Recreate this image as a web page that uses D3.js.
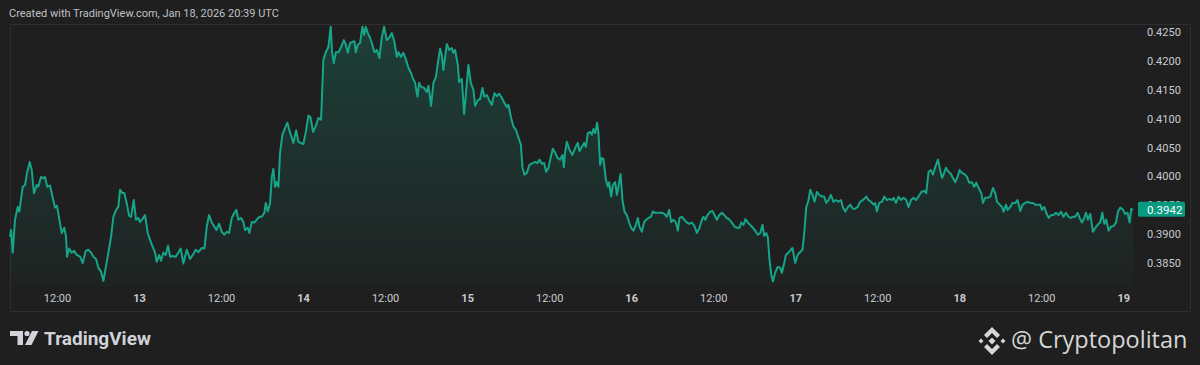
<!DOCTYPE html>
<html>
<head>
<meta charset="utf-8">
<script src="https://cdn.jsdelivr.net/npm/d3@7"></script>
<style>
    body { margin: 0; background: #1f1f1f; overflow: hidden; }
    svg { display: block; }
    text { font-family: Roboto, "DejaVu Sans", sans-serif; }
</style>
</head>
<body>
<script>
var w = 1200;
var h = 365;

// [hours since 2026-01-12 00:00 UTC, price]
var series = [
    [5.12, 0.3895], [5.27, 0.3907], [5.52, 0.3868], [5.85, 0.3925], [6.25, 0.3947], [6.48, 0.3939],
    [6.98, 0.3982], [7.32, 0.3985], [7.61, 0.4006], [8.00, 0.4025], [8.30, 0.4011], [8.63, 0.3971],
    [9.03, 0.3985], [9.26, 0.3982], [9.66, 0.3999], [10.00, 0.3997], [10.24, 0.3999], [10.58, 0.3982],
    [10.98, 0.3984], [11.37, 0.3963], [11.71, 0.3946], [12.00, 0.3949], [12.34, 0.3925], [12.69, 0.3902],
    [13.07, 0.3911], [13.32, 0.3895], [13.46, 0.3861], [13.76, 0.3875], [14.15, 0.3868], [14.49, 0.3871],
    [14.88, 0.3864], [15.37, 0.3861], [15.76, 0.3850], [16.20, 0.3871], [16.58, 0.3873], [16.98, 0.3868],
    [17.31, 0.3861], [17.71, 0.3857], [18.04, 0.3842], [18.44, 0.3835], [18.78, 0.3819], [19.13, 0.3842],
    [19.51, 0.3868], [19.90, 0.3895], [20.24, 0.3930], [20.63, 0.3942], [20.97, 0.3947], [21.22, 0.3977],
    [21.56, 0.3971], [21.85, 0.3971], [22.24, 0.3951], [22.54, 0.3932], [22.83, 0.3930], [23.22, 0.3959],
    [23.56, 0.3925], [23.90, 0.3928], [24.15, 0.3921], [24.48, 0.3926], [24.88, 0.3933], [25.27, 0.3902],
    [25.61, 0.3890], [26.00, 0.3878], [26.34, 0.3868], [26.59, 0.3852], [26.93, 0.3864], [27.22, 0.3854],
    [27.56, 0.3868], [27.91, 0.3864], [28.24, 0.3880], [28.54, 0.3861], [28.93, 0.3862], [29.37, 0.3861],
    [29.75, 0.3868], [30.10, 0.3875], [30.48, 0.3849], [30.98, 0.3873], [31.46, 0.3857], [31.86, 0.3864],
    [32.30, 0.3873], [32.68, 0.3869], [33.18, 0.3876], [33.56, 0.3875], [33.91, 0.3913], [34.24, 0.3933],
    [34.64, 0.3920], [35.02, 0.3913], [35.31, 0.3907], [35.71, 0.3918], [36.10, 0.3904], [36.48, 0.3899],
    [36.83, 0.3904], [37.17, 0.3902], [37.57, 0.3928], [37.95, 0.3937], [38.24, 0.3942], [38.53, 0.3925],
    [38.93, 0.3928], [39.26, 0.3921], [39.51, 0.3907], [39.91, 0.3911], [40.14, 0.3902], [40.49, 0.3921],
    [40.87, 0.3920], [41.22, 0.3925], [41.61, 0.3930], [41.96, 0.3930], [42.34, 0.3937], [42.54, 0.3954],
    [42.83, 0.3939], [43.17, 0.3954], [43.42, 0.3999], [43.65, 0.4013], [43.90, 0.3982], [44.15, 0.3990],
    [44.39, 0.3982], [44.63, 0.4041], [44.97, 0.4072], [45.37, 0.4084], [45.70, 0.4093], [45.99, 0.4080],
    [46.58, 0.4058], [46.98, 0.4080], [47.31, 0.4060], [47.66, 0.4058], [48.04, 0.4056], [48.40, 0.4077],
    [48.78, 0.4105], [49.07, 0.4103], [49.46, 0.4077], [49.86, 0.4087], [50.24, 0.4101], [50.63, 0.4098],
    [50.97, 0.4202], [51.32, 0.4215], [51.70, 0.4224], [52.05, 0.4259], [52.24, 0.4215], [52.49, 0.4196],
    [52.79, 0.4215], [53.17, 0.4215], [53.56, 0.4224], [53.96, 0.4236], [54.25, 0.4228], [54.54, 0.4214],
    [54.88, 0.4231], [55.27, 0.4233], [55.51, 0.4234], [55.71, 0.4215], [56.00, 0.4228], [56.34, 0.4231],
    [56.68, 0.4259], [56.93, 0.4245], [57.17, 0.4259], [57.47, 0.4248], [57.80, 0.4240], [58.14, 0.4228],
    [58.43, 0.4215], [58.79, 0.4219], [59.17, 0.4205], [59.52, 0.4241], [59.85, 0.4259], [60.25, 0.4236],
    [60.59, 0.4240], [60.98, 0.4248], [61.36, 0.4233], [61.71, 0.4207], [61.95, 0.4215], [62.30, 0.4207],
    [62.68, 0.4214], [63.03, 0.4203], [63.41, 0.4188], [63.80, 0.4179], [64.05, 0.4170], [64.39, 0.4162],
    [64.73, 0.4138], [64.98, 0.4162], [65.27, 0.4155], [65.71, 0.4153], [66.10, 0.4146], [66.34, 0.4157],
    [66.73, 0.4122], [67.07, 0.4162], [67.42, 0.4172], [67.71, 0.4196], [68.05, 0.4221], [68.30, 0.4210],
    [68.53, 0.4184], [68.78, 0.4207], [69.03, 0.4229], [69.37, 0.4219], [69.76, 0.4222], [69.99, 0.4214],
    [70.24, 0.4219], [70.64, 0.4193], [70.83, 0.4163], [71.22, 0.4169], [71.56, 0.4108], [71.96, 0.4162],
    [72.19, 0.4193], [72.54, 0.4162], [72.92, 0.4150], [73.17, 0.4122], [73.57, 0.4132], [73.90, 0.4134],
    [74.24, 0.4153], [74.53, 0.4138], [74.88, 0.4141], [75.22, 0.4132], [75.61, 0.4124], [75.99, 0.4144],
    [76.35, 0.4139], [76.68, 0.4143], [77.08, 0.4136], [77.46, 0.4127], [77.81, 0.4120], [78.04, 0.4124],
    [78.44, 0.4101], [78.78, 0.4086], [79.17, 0.4080], [79.51, 0.4067], [79.86, 0.4055], [80.09, 0.4016],
    [80.38, 0.4003], [80.74, 0.4006], [81.12, 0.4020], [81.56, 0.4023], [81.95, 0.4025], [82.29, 0.4023],
    [82.58, 0.4029], [82.93, 0.4022], [83.27, 0.4023], [83.56, 0.4008], [83.90, 0.4015], [84.25, 0.4034],
    [84.54, 0.4048], [84.88, 0.4041], [85.22, 0.4032], [85.61, 0.4029], [85.95, 0.4037], [86.15, 0.4016],
    [86.34, 0.4042], [86.59, 0.4060], [86.97, 0.4046], [87.41, 0.4037], [87.80, 0.4049], [88.20, 0.4058],
    [88.43, 0.4044], [88.78, 0.4051], [89.12, 0.4058], [89.37, 0.4051], [89.66, 0.4075], [90.00, 0.4077],
    [90.25, 0.4072], [90.48, 0.4082], [90.73, 0.4075], [91.02, 0.4093], [91.21, 0.4075], [91.46, 0.4020],
    [91.71, 0.4032], [91.95, 0.4030], [92.30, 0.3994], [92.59, 0.3982], [92.78, 0.3990], [93.07, 0.3965],
    [93.32, 0.3985], [93.66, 0.3990], [93.91, 0.3968], [94.14, 0.3982], [94.44, 0.4004], [94.73, 0.3959],
    [95.02, 0.3939], [95.37, 0.3933], [95.71, 0.3920], [96.00, 0.3911], [96.34, 0.3906], [96.69, 0.3916],
    [96.98, 0.3928], [97.21, 0.3913], [97.56, 0.3904], [97.90, 0.3921], [98.20, 0.3925], [98.53, 0.3928],
    [98.88, 0.3930], [99.17, 0.3939], [99.51, 0.3937], [100.00, 0.3937], [100.49, 0.3937], [100.87, 0.3935],
    [101.22, 0.3930], [101.56, 0.3942], [101.85, 0.3921], [102.19, 0.3925], [102.54, 0.3920], [102.83, 0.3906],
    [103.07, 0.3928], [103.42, 0.3930], [103.76, 0.3925], [104.15, 0.3920], [104.49, 0.3918], [104.88, 0.3920],
    [105.26, 0.3914], [105.61, 0.3902], [106.00, 0.3911], [106.34, 0.3925], [106.58, 0.3930], [106.83, 0.3925],
    [107.17, 0.3933], [107.56, 0.3939], [107.90, 0.3940], [108.19, 0.3933], [108.54, 0.3925], [108.88, 0.3933],
    [109.27, 0.3937], [109.61, 0.3933], [110.00, 0.3928], [110.38, 0.3925], [110.73, 0.3920], [111.12, 0.3913],
    [111.47, 0.3911], [111.85, 0.3911], [112.10, 0.3920], [112.43, 0.3916], [112.73, 0.3926], [113.08, 0.3920],
    [113.41, 0.3916], [113.81, 0.3911], [114.15, 0.3906], [114.54, 0.3899], [114.88, 0.3902], [115.22, 0.3916],
    [115.46, 0.3897], [115.76, 0.3902], [116.00, 0.3894], [116.24, 0.3856], [116.49, 0.3830], [116.74, 0.3818],
    [117.07, 0.3833], [117.41, 0.3843], [117.80, 0.3842], [118.05, 0.3833], [118.39, 0.3850], [118.64, 0.3864],
    [119.02, 0.3868], [119.37, 0.3873], [119.60, 0.3876], [120.00, 0.3850], [120.34, 0.3864], [120.73, 0.3869],
    [121.07, 0.3873], [121.36, 0.3907], [121.61, 0.3946], [121.95, 0.3959], [122.20, 0.3977], [122.53, 0.3968],
    [122.83, 0.3956], [123.17, 0.3973], [123.51, 0.3968], [123.91, 0.3965], [124.24, 0.3965], [124.54, 0.3954],
    [124.87, 0.3959], [125.22, 0.3968], [125.60, 0.3956], [125.95, 0.3959], [126.34, 0.3956], [126.69, 0.3959],
    [126.98, 0.3946], [127.32, 0.3939], [127.71, 0.3947], [128.05, 0.3951], [128.44, 0.3944], [128.78, 0.3944],
    [129.12, 0.3947], [129.51, 0.3956], [129.91, 0.3959], [130.39, 0.3965], [130.73, 0.3959], [131.08, 0.3956],
    [131.46, 0.3951], [131.71, 0.3954], [131.95, 0.3939], [132.29, 0.3954], [132.69, 0.3956], [133.02, 0.3965],
    [133.42, 0.3959], [133.80, 0.3961], [134.15, 0.3959], [134.39, 0.3963], [134.74, 0.3954], [135.12, 0.3965],
    [135.47, 0.3959], [135.85, 0.3963], [136.24, 0.3959], [136.58, 0.3947], [136.93, 0.3959], [137.31, 0.3963],
    [137.66, 0.3959], [138.04, 0.3965], [138.44, 0.3973], [138.88, 0.3975], [139.17, 0.3971], [139.51, 0.4008],
    [139.86, 0.4011], [140.15, 0.4003], [140.49, 0.4016], [140.88, 0.4029], [141.12, 0.4016], [141.47, 0.3997],
    [141.70, 0.4003], [142.05, 0.4015], [142.43, 0.4008], [142.79, 0.4004], [143.08, 0.3997], [143.41, 0.3990],
    [143.75, 0.3999], [144.04, 0.4011], [144.39, 0.4006], [144.78, 0.4004], [145.13, 0.3999], [145.46, 0.3989],
    [145.86, 0.3990], [146.19, 0.3982], [146.49, 0.3989], [146.83, 0.3980], [147.22, 0.3971], [147.47, 0.3954],
    [147.80, 0.3963], [148.14, 0.3963], [148.54, 0.3965], [148.93, 0.3980], [149.27, 0.3971], [149.52, 0.3956],
    [149.85, 0.3952], [150.25, 0.3947], [150.48, 0.3939], [150.83, 0.3951], [151.07, 0.3942], [151.46, 0.3947],
    [151.80, 0.3954], [152.20, 0.3954], [152.53, 0.3959], [152.93, 0.3940], [153.27, 0.3951], [153.66, 0.3954],
    [153.99, 0.3956], [154.39, 0.3954], [154.78, 0.3954], [155.12, 0.3951], [155.46, 0.3951], [155.85, 0.3951],
    [156.10, 0.3942], [156.44, 0.3947], [156.73, 0.3937], [157.07, 0.3928], [157.42, 0.3933], [157.80, 0.3933],
    [158.15, 0.3937], [158.53, 0.3933], [158.88, 0.3939], [159.26, 0.3930], [159.61, 0.3937], [159.99, 0.3930],
    [160.35, 0.3928], [160.64, 0.3930], [160.98, 0.3930], [161.32, 0.3937], [161.61, 0.3928], [161.96, 0.3920],
    [162.29, 0.3928], [162.54, 0.3937], [162.83, 0.3925], [163.17, 0.3935], [163.56, 0.3904], [163.90, 0.3911],
    [164.24, 0.3916], [164.63, 0.3921], [164.93, 0.3937], [165.22, 0.3918], [165.51, 0.3925], [165.85, 0.3906],
    [166.20, 0.3913], [166.58, 0.3914], [166.93, 0.3920], [167.22, 0.3939], [167.56, 0.3946], [167.96, 0.3942],
    [168.29, 0.3935], [168.63, 0.3937], [168.92, 0.3920], [169.17, 0.3944], [169.42, 0.3942]
];

var yTicks = [0.3850, 0.3900, 0.3950, 0.4000, 0.4050, 0.4100, 0.4150, 0.4200, 0.4250];
var xTicks = ["2026-01-12T12:00Z", "2026-01-13T00:00Z", "2026-01-13T12:00Z", "2026-01-14T00:00Z",
    "2026-01-14T12:00Z", "2026-01-15T00:00Z", "2026-01-15T12:00Z", "2026-01-16T00:00Z",
    "2026-01-16T12:00Z", "2026-01-17T00:00Z", "2026-01-17T12:00Z", "2026-01-18T00:00Z",
    "2026-01-18T12:00Z", "2026-01-19T00:00Z"];
var lastPrice = 0.3942;
var headerText = "Created with TradingView.com, Jan 18, 2026 20:39 UTC";

var lineColor = "#16a588";
var textColor = "#c9cbd1";
var t0 = Date.UTC(2026, 0, 12);

var data = series.map(d => ({ t: new Date(t0 + d[0] * 3600000), v: d[1] }));

var svg = d3.select("body")
    .append("svg")
    .attr("width", w)
    .attr("height", h);

svg.append("rect").attr("width", w).attr("height", h).attr("fill", "#1f1f1f");

var x = d3.scaleUtc()
    .domain(d3.extent(data, d => d.t))
    .range([10, 1133]);

var y = d3.scaleLinear()
    .domain([0.3850, 0.4250])
    .range([263, 32]);

var paneBottom = 286;

// gradient under the line
var grad = svg.append("defs").append("linearGradient")
    .attr("id", "fill")
    .attr("gradientUnits", "userSpaceOnUse")
    .attr("x1", 0).attr("x2", 0)
    .attr("y1", y(0.4259)).attr("y2", paneBottom);
grad.append("stop").attr("offset", 0).attr("stop-color", lineColor).attr("stop-opacity", 0.24);
grad.append("stop").attr("offset", 1).attr("stop-color", lineColor).attr("stop-opacity", 0.03);

// frame
svg.append("path")
    .attr("d", "M10.5,311.5V24.5H1190.5V311.5H10.5")
    .attr("fill", "none")
    .attr("stroke", "#2e2e2e");

svg.append("path")
    .datum(data)
    .attr("fill", "url(#fill)")
    .attr("d", d3.area().x(d => x(d.t)).y0(paneBottom).y1(d => y(d.v)));

svg.append("path")
    .datum(data)
    .attr("fill", "none")
    .attr("stroke", lineColor)
    .attr("stroke-width", 2)
    .attr("stroke-linejoin", "round")
    .attr("d", d3.line().x(d => x(d.t)).y(d => y(d.v)));

// price axis (0.3950 sits under the last-price label, as in the original)
var yAxis = svg.append("g")
    .attr("transform", "translate(1147,0)")
    .call(d3.axisRight(y).tickValues(yTicks).tickSize(0).tickPadding(0).tickFormat(d3.format(".4f")));
yAxis.select(".domain").remove();
yAxis.selectAll("text")
    .attr("fill", textColor)
    .style("font-size", "11px")
    .style("font-family", "Roboto, sans-serif");

// time axis
var xAxis = svg.append("g")
    .attr("transform", "translate(0,294)")
    .call(d3.axisBottom(x)
        .tickValues(xTicks.map(s => new Date(s)))
        .tickSize(0).tickPadding(0)
        .tickFormat(d => d.getUTCHours() === 0 ? d3.utcFormat("%-d")(d) : d3.utcFormat("%H:%M")(d)));
xAxis.select(".domain").remove();
xAxis.selectAll("text")
    .attr("fill", textColor)
    .style("font-size", "11px")
    .style("font-family", "Roboto, sans-serif")
    .style("font-weight", d => d.getUTCHours() === 0 ? "bold" : "normal");

// last price label
var ly = y(lastPrice);
svg.append("rect")
    .attr("x", 1138).attr("y", ly - 8)
    .attr("width", 47).attr("height", 15)
    .attr("rx", 1.5)
    .attr("fill", "#089981");
svg.append("text")
    .attr("x", 1147).attr("y", ly + 4)
    .attr("fill", "#ffffff")
    .style("font-size", "11.5px")
    .text(d3.format(".4f")(lastPrice));

// header
svg.append("text")
    .attr("x", 9).attr("y", 17)
    .attr("fill", "#bfc1c6")
    .style("font-size", "11px")
    .text(headerText);

// TradingView logo
var tv = svg.append("g").attr("fill", "#d1d3d8");
tv.append("path").attr("d", "M10,331H23V345H17.5V336H10Z");
tv.append("circle").attr("cx", 27).attr("cy", 333.5).attr("r", 2.6);
tv.append("path").attr("d", "M32,331H38.5L31.5,345H25Z");
tv.append("text")
    .attr("x", 44).attr("y", 345)
    .style("font-size", "19px")
    .style("font-weight", "bold")
    .style("font-family", "Roboto, sans-serif")
    .text("TradingView");

// Cryptopolitan mark
var cp = svg.append("g").attr("fill", "#d6d6d6");
cp.append("path").attr("d", "M992,327L1000,335L997,338L992,333L987,338L984,335Z");
cp.append("path").attr("d", "M992,355L1000,347L997,344L992,349L987,344L984,347Z");
cp.append("path").attr("d", "M992,337.5L995.5,341L992,344.5L988.5,341Z");
cp.append("path").attr("d", "M981,338.5L983.5,341L981,343.5L978.5,341Z");
cp.append("path").attr("d", "M1003,338.5L1005.5,341L1003,343.5L1000.5,341Z");
svg.append("text")
    .attr("x", 1011).attr("y", 348)
    .attr("fill", "#d6d6d6")
    .style("font-size", "23.5px")
    .style("font-family", "'Open Sans', sans-serif")
    .text("@ Cryptopolitan");
</script>
</body>
</html>
